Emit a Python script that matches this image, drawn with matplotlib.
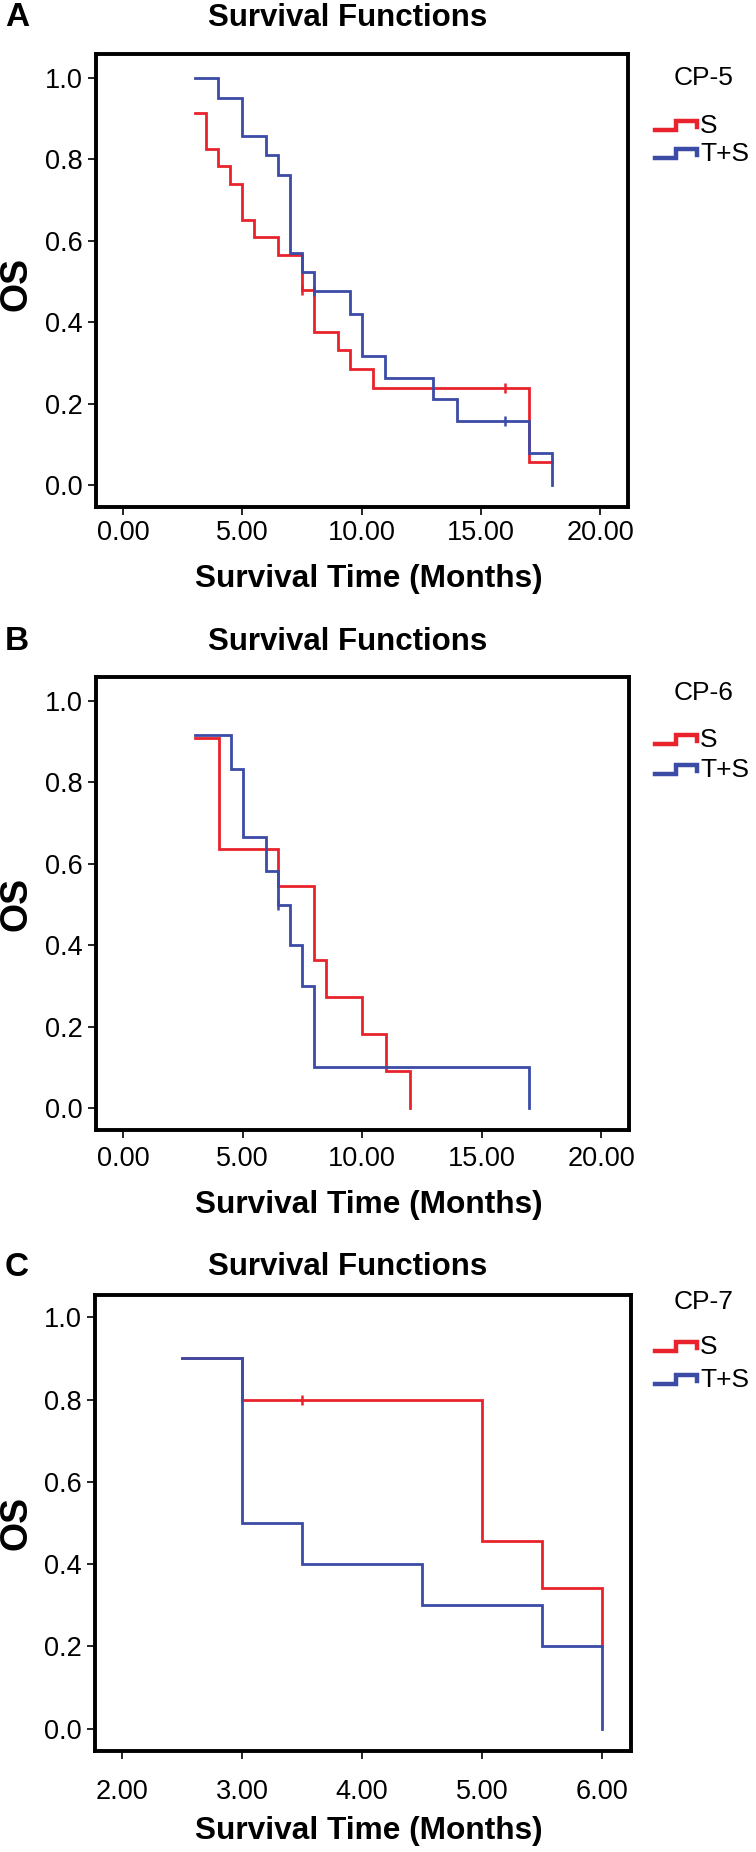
import matplotlib
matplotlib.use('Agg')
import matplotlib.pyplot as plt
from matplotlib.lines import Line2D

plt.rcParams['font.family'] = ['Liberation Sans', 'DejaVu Sans']

W, H = 756, 1852

# ---- data ----
# panel A, CP-5
a_s_time = [3.0, 3.5, 4.0, 4.5, 5.0, 5.5, 6.5, 7.5, 8.0, 9.0, 9.5, 10.5, 17.0, 18.0]
a_s_surv = [0.913, 0.826, 0.783, 0.739, 0.652, 0.609, 0.565, 0.478, 0.377, 0.331, 0.285, 0.238, 0.057, 0.057]
a_s_cens = [(7.5, 0.478), (16.0, 0.238)]
a_ts_time = [3.0, 4.0, 5.0, 6.0, 6.5, 7.0, 7.5, 8.0, 9.5, 10.0, 11.0, 13.0, 14.0, 17.0, 18.0]
a_ts_surv = [1.0, 0.952, 0.857, 0.810, 0.762, 0.571, 0.524, 0.476, 0.421, 0.316, 0.263, 0.211, 0.158, 0.079, 0.0]
a_ts_cens = [(8.0, 0.476), (16.0, 0.158)]

# panel B, CP-6
b_s_time = [3.0, 4.0, 6.5, 8.0, 8.5, 10.0, 11.0, 12.0]
b_s_surv = [0.909, 0.636, 0.545, 0.364, 0.273, 0.182, 0.091, 0.0]
b_s_cens = []
b_ts_time = [3.0, 4.5, 5.0, 6.0, 6.5, 7.0, 7.5, 8.0, 17.0]
b_ts_surv = [0.917, 0.833, 0.667, 0.583, 0.5, 0.4, 0.3, 0.1, 0.0]
b_ts_cens = [(6.5, 0.5)]

# panel C, CP-7
c_s_time = [2.5, 3.0, 5.0, 5.5, 6.0]
c_s_surv = [0.9, 0.8, 0.457, 0.343, 0.2]
c_s_cens = [(3.5, 0.8)]
c_ts_time = [2.5, 3.0, 3.5, 4.5, 5.5, 6.0]
c_ts_surv = [0.9, 0.5, 0.4, 0.3, 0.2, 0.0]
c_ts_cens = []

y_ticks = [0.0, 0.2, 0.4, 0.6, 0.8, 1.0]
ab_x_ticks = [0, 5, 10, 15, 20]
c_x_ticks = [2, 3, 4, 5, 6]

RED = '#e8232c'
BLUE = '#3b4ba6'


def fx(x):
    return x / W


def fy(y):
    return 1 - y / H


fig = plt.figure(figsize=(W / 100, H / 100), dpi=100)

panels = [
    # box is (left, top, right, bottom) in pixels
    dict(letter='A', group='CP-5', box=(96, 54, 628, 507), xlim=(-1.13, 21.17),
         xticks=ab_x_ticks, ylim=(-0.054, 1.059),
         s=(a_s_time, a_s_surv, a_s_cens), ts=(a_ts_time, a_ts_surv, a_ts_cens),
         title_y=18, xlabel_y=579, os_y=284, grp_y=78, s_y=126, ts_y=154, pad=4),
    dict(letter='B', group='CP-6', box=(96, 677, 629, 1130), xlim=(-1.13, 21.17),
         xticks=ab_x_ticks, ylim=(-0.054, 1.059),
         s=(b_s_time, b_s_surv, b_s_cens), ts=(b_ts_time, b_ts_surv, b_ts_cens),
         title_y=642, xlabel_y=1205, os_y=904, grp_y=693, s_y=740, ts_y=770, pad=6),
    dict(letter='C', group='CP-7', box=(95, 1295, 631, 1751), xlim=(1.775, 6.24),
         xticks=c_x_ticks, ylim=(-0.054, 1.054),
         s=(c_s_time, c_s_surv, c_s_cens), ts=(c_ts_time, c_ts_surv, c_ts_cens),
         title_y=1267, xlabel_y=1831, os_y=1523, grp_y=1302, s_y=1347, ts_y=1380, pad=15),
]

for p in panels:
    l, t, r, b = p['box']
    ax = fig.add_axes([fx(l), fy(b), (r - l) / W, (b - t) / H])

    # S first, T+S drawn on top
    for (times, surv, cens), col in [(p['s'], RED), (p['ts'], BLUE)]:
        ax.step(times, surv, where='post', color=col, lw=2.0, solid_joinstyle='miter')
        if cens:
            cx, cy = zip(*cens)
            ax.plot(cx, cy, ls='none', marker='|', ms=7, mew=1.8, color=col)

    ax.set_xlim(*p['xlim'])
    ax.set_ylim(*p['ylim'])
    ax.set_xticks(p['xticks'])
    ax.set_xticklabels([f'{v:.2f}' for v in p['xticks']])
    ax.set_yticks(y_ticks)
    ax.set_yticklabels([f'{v:.1f}' for v in y_ticks])
    ax.tick_params(direction='out', length=5.5, width=1.2, labelsize=19.5, color='black')
    ax.tick_params(axis='x', pad=p['pad'])
    ax.tick_params(axis='y', pad=4)
    for sp in ax.spines.values():
        sp.set_linewidth(2.8)

    # titles and labels placed in figure pixels
    fig.text(fx(5), fy(p['title_y']), p['letter'], fontsize=24, fontweight='bold',
             ha='left', va='center')
    fig.text(fx(348), fy(p['title_y']), 'Survival Functions', fontsize=22.5,
             fontweight='bold', ha='center', va='center')
    fig.text(fx(369), fy(p['xlabel_y']), 'Survival Time (Months)', fontsize=22.8,
             fontweight='bold', ha='center', va='center')
    fig.text(fx(17), fy(p['os_y']), 'OS', fontsize=27, fontweight='bold',
             rotation=90, ha='center', va='center')

    # legend block
    fig.text(fx(704), fy(p['grp_y']), p['group'], fontsize=19, ha='center', va='center')
    for lab, col, yc in [('S', RED, p['s_y']), ('T+S', BLUE, p['ts_y'])]:
        xs = [655, 676, 676, 697, 697]
        ys = [yc + 4, yc + 4, yc - 5, yc - 5, yc + 1]
        fig.add_artist(Line2D([fx(v) for v in xs], [fy(v) for v in ys],
                              transform=fig.transFigure, color=col, lw=3.2,
                              solid_joinstyle='miter'))
        fig.text(fx(700), fy(yc), lab, fontsize=19, ha='left', va='center')

fig.savefig('out.png', dpi=100)
